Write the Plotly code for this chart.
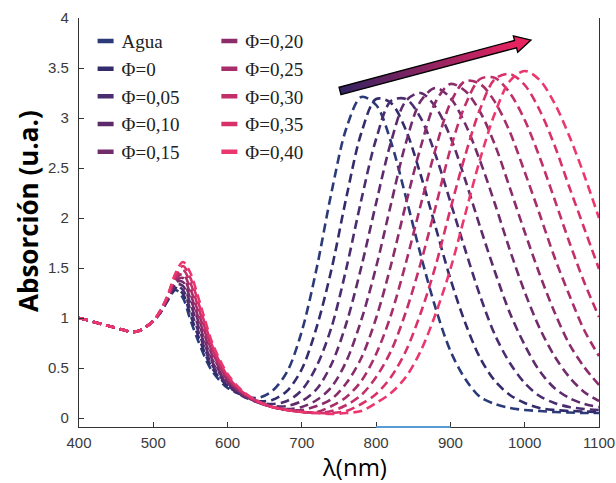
import math
import plotly.graph_objects as go

# ---------------- data ----------------
wavelength = [400, 420, 440, 460, 470, 480, 490, 500, 510, 520, 530, 540, 550, 560, 570, 580,
              600, 620, 640, 660, 680, 700, 720, 740, 760, 780, 800, 820, 840, 860, 880, 900,
              920, 940, 960, 980, 1000, 1020, 1040, 1060, 1080, 1100]

agua = [1.00, 0.96, 0.92, 0.88, 0.86, 0.87, 0.91, 0.97, 1.06, 1.18, 1.28, 1.20, 0.98, 0.78, 0.60, 0.46,
        0.30, 0.23, 0.20, 0.27, 0.46, 0.87, 1.50, 2.26, 2.90, 3.21, 3.13, 2.76, 2.21, 1.63, 1.10, 0.67,
        0.39, 0.21, 0.14, 0.10, 0.08, 0.07, 0.06, 0.055, 0.05, 0.05]
phi_000 = [1.00, 0.96, 0.92, 0.88, 0.86, 0.87, 0.91, 0.97, 1.06, 1.19, 1.30, 1.24, 1.03, 0.83, 0.64, 0.49,
           0.32, 0.23, 0.17, 0.18, 0.27, 0.49, 0.91, 1.49, 2.21, 2.85, 3.19, 3.15, 2.88, 2.43, 1.91, 1.39,
           0.95, 0.60, 0.37, 0.23, 0.15, 0.10, 0.08, 0.07, 0.065, 0.06]
phi_005 = [1.00, 0.96, 0.92, 0.88, 0.86, 0.87, 0.91, 0.97, 1.06, 1.19, 1.32, 1.28, 1.08, 0.88, 0.68, 0.52,
           0.33, 0.22, 0.16, 0.14, 0.17, 0.28, 0.52, 0.91, 1.50, 2.18, 2.79, 3.17, 3.19, 3.00, 2.63, 2.16,
           1.68, 1.22, 0.83, 0.55, 0.35, 0.22, 0.15, 0.11, 0.09, 0.08]
phi_010 = [1.00, 0.96, 0.92, 0.88, 0.86, 0.87, 0.91, 0.97, 1.06, 1.20, 1.34, 1.32, 1.14, 0.93, 0.72, 0.55,
           0.35, 0.23, 0.16, 0.12, 0.12, 0.17, 0.29, 0.54, 0.95, 1.51, 2.15, 2.76, 3.17, 3.25, 3.11, 2.81,
           2.38, 1.91, 1.46, 1.05, 0.73, 0.47, 0.30, 0.20, 0.14, 0.11]
phi_015 = [1.00, 0.96, 0.92, 0.88, 0.86, 0.87, 0.91, 0.97, 1.06, 1.21, 1.36, 1.36, 1.19, 0.98, 0.76, 0.58,
           0.36, 0.24, 0.16, 0.11, 0.09, 0.11, 0.18, 0.31, 0.57, 0.98, 1.51, 2.14, 2.75, 3.17, 3.30, 3.20,
           2.94, 2.57, 2.14, 1.68, 1.26, 0.90, 0.62, 0.41, 0.26, 0.17]
phi_020 = [1.00, 0.96, 0.92, 0.88, 0.86, 0.87, 0.91, 0.97, 1.07, 1.21, 1.37, 1.40, 1.24, 1.02, 0.81, 0.62,
           0.38, 0.24, 0.16, 0.11, 0.08, 0.08, 0.12, 0.19, 0.35, 0.60, 1.00, 1.53, 2.14, 2.71, 3.16, 3.34,
           3.27, 3.06, 2.73, 2.30, 1.86, 1.44, 1.06, 0.74, 0.51, 0.33]
phi_025 = [1.00, 0.96, 0.92, 0.88, 0.86, 0.87, 0.91, 0.97, 1.07, 1.22, 1.39, 1.44, 1.29, 1.07, 0.85, 0.65,
           0.39, 0.25, 0.16, 0.11, 0.08, 0.06, 0.06, 0.12, 0.21, 0.37, 0.64, 1.03, 1.55, 2.13, 2.69, 3.15,
           3.37, 3.34, 3.16, 2.86, 2.46, 2.04, 1.61, 1.23, 0.88, 0.62]
phi_030 = [1.00, 0.96, 0.92, 0.88, 0.86, 0.87, 0.91, 0.97, 1.07, 1.23, 1.41, 1.48, 1.35, 1.12, 0.89, 0.68,
           0.41, 0.26, 0.17, 0.11, 0.08, 0.06, 0.05, 0.07, 0.13, 0.23, 0.41, 0.67, 1.06, 1.55, 2.11, 2.69,
           3.13, 3.39, 3.40, 3.25, 2.98, 2.61, 2.19, 1.76, 1.36, 1.01]
phi_035 = [1.00, 0.96, 0.92, 0.88, 0.86, 0.87, 0.91, 0.97, 1.08, 1.23, 1.43, 1.52, 1.40, 1.17, 0.93, 0.71,
           0.42, 0.26, 0.17, 0.11, 0.08, 0.06, 0.05, 0.05, 0.07, 0.14, 0.24, 0.41, 0.67, 1.05, 1.52, 2.09,
           2.63, 3.09, 3.39, 3.44, 3.33, 3.08, 2.73, 2.31, 1.90, 1.49]
phi_040 = [1.00, 0.96, 0.92, 0.88, 0.86, 0.87, 0.91, 0.97, 1.08, 1.24, 1.45, 1.56, 1.45, 1.22, 0.97, 0.74,
           0.44, 0.27, 0.17, 0.11, 0.08, 0.06, 0.05, 0.04, 0.05, 0.07, 0.15, 0.25, 0.41, 0.67, 1.04, 1.49,
           2.04, 2.59, 3.05, 3.37, 3.47, 3.38, 3.15, 2.82, 2.43, 2.00]

series_values = [agua, phi_000, phi_005, phi_010, phi_015, phi_020, phi_025, phi_030, phi_035, phi_040]
series_names = ["Agua", "Φ=0", "Φ=0,05", "Φ=0,10", "Φ=0,15",
                "Φ=0,20", "Φ=0,25", "Φ=0,30", "Φ=0,35", "Φ=0,40"]
series_colors = ["#2b3a78", "#332c6c", "#4a2d70", "#5d2b6c", "#722c6c",
                 "#8c2c6a", "#a82d6a", "#c22f6a", "#d9306a", "#ec376e"]

x_ticks = [400, 500, 600, 700, 800, 900, 1000, 1100]
y_ticks = [0, 0.5, 1, 1.5, 2, 2.5, 3, 3.5, 4]
y_tick_text = ["0", "0.5", "1", "1.5", "2", "2.5", "3", "3.5", "4"]

# ---------------- figure ----------------
W, H = 616, 483
ML, MR, MT, MB = 79, 17, 18, 56
PW, PH = W - ML - MR, H - MT - MB

fig = go.Figure()

for name, vals, col in zip(series_names, series_values, series_colors):
    fig.add_trace(go.Scatter(
        x=wavelength, y=vals, mode="lines", name=name, showlegend=False,
        line=dict(color=col, width=2.6, dash="9px,5px", shape="spline", smoothing=0.9),
        hoverinfo="skip"))

# legend-only entries (two columns)
for i, (name, col) in enumerate(zip(series_names, series_colors)):
    fig.add_trace(go.Scatter(
        x=[None], y=[None], mode="lines", name=name, showlegend=True,
        legend="legend" if i < 5 else "legend2",
        line=dict(color=col, width=4.5, dash="0px,11px,16px,100px")))


def to_paper(px, py):
    return (px - ML) / PW, (MT + PH - py) / PH


# gradient arrow (decoration)
tail = (340.0, 91.0)
tip = (531.0, 40.0)
dx, dy = tip[0] - tail[0], tip[1] - tail[1]
L = math.hypot(dx, dy)
ux, uy = dx / L, dy / L
nx, ny = -uy, ux
hw, hh, hl = 3.8, 8.5, 16.0
Ls = L - hl
c0 = (50, 36, 98)
c1 = (232, 36, 96)
N = 30
shapes = []
for k in range(N):
    s0 = Ls * k / N
    s1 = Ls * (k + 1) / N + 0.8
    t = (k + 0.5) / N
    col = "rgb(%d,%d,%d)" % tuple(int(c0[j] + (c1[j] - c0[j]) * t) for j in range(3))
    pts = [(tail[0] + ux * s0 + nx * hw, tail[1] + uy * s0 + ny * hw),
           (tail[0] + ux * s1 + nx * hw, tail[1] + uy * s1 + ny * hw),
           (tail[0] + ux * s1 - nx * hw, tail[1] + uy * s1 - ny * hw),
           (tail[0] + ux * s0 - nx * hw, tail[1] + uy * s0 - ny * hw)]
    pp = [to_paper(*p) for p in pts]
    path = "M" + " L".join("%.5f,%.5f" % p for p in pp) + " Z"
    shapes.append(dict(type="path", path=path, xref="paper", yref="paper",
                       fillcolor=col, line=dict(width=0), layer="above"))
se = (tail[0] + ux * Ls, tail[1] + uy * Ls)
head = [(se[0] + nx * hh, se[1] + ny * hh), tip, (se[0] - nx * hh, se[1] - ny * hh)]
pp = [to_paper(*p) for p in head]
shapes.append(dict(type="path", path="M" + " L".join("%.5f,%.5f" % p for p in pp) + " Z",
                   xref="paper", yref="paper", fillcolor="rgb(232,36,96)",
                   line=dict(width=0), layer="above"))
outline = [(tail[0] + nx * hw, tail[1] + ny * hw), (se[0] + nx * hw, se[1] + ny * hw),
           (se[0] + nx * hh, se[1] + ny * hh), tip, (se[0] - nx * hh, se[1] - ny * hh),
           (se[0] - nx * hw, se[1] - ny * hw), (tail[0] - nx * hw, tail[1] - ny * hw)]
pp = [to_paper(*p) for p in outline]
shapes.append(dict(type="path", path="M" + " L".join("%.5f,%.5f" % p for p in pp) + " Z",
                   xref="paper", yref="paper", fillcolor="rgba(0,0,0,0)",
                   line=dict(width=1.3, color="black"), layer="above"))

# light-blue segment on the x axis
shapes.append(dict(type="line", xref="x", yref="paper", x0=800, x1=900, y0=0, y1=0,
                   line=dict(color="#5b9bd5", width=2), layer="above"))

tick_font = dict(family="Liberation Sans Narrow, Arial, sans-serif",
                 size=15, color="#3a3a3a")
legend_font = dict(family="Liberation Serif, Times New Roman, serif", size=19, color="#222222")

fig.update_layout(
    width=W, height=H, autosize=False,
    margin=dict(l=ML, r=MR, t=MT, b=MB, autoexpand=False),
    paper_bgcolor="white", plot_bgcolor="white",
    showlegend=True,
    legend=dict(x=0.005, y=0.99, xanchor="left", yanchor="top", bgcolor="rgba(0,0,0,0)",
                font=legend_font, itemwidth=30, tracegroupgap=0),
    legend2=dict(x=0.243, y=0.99, xanchor="left", yanchor="top", bgcolor="rgba(0,0,0,0)",
                 font=legend_font, itemwidth=30, tracegroupgap=0),
    xaxis=dict(range=[400, 1100], tickvals=x_ticks, showgrid=False, zeroline=False,
               showline=True, linecolor="#333333", linewidth=1.2, ticks="inside",
               ticklen=5, tickcolor="#333333", tickfont=tick_font, ticklabelstandoff=2,
               ticklabeloverflow="allow", automargin=False),
    yaxis=dict(range=[-0.09, 4.0], tickvals=y_ticks, ticktext=y_tick_text, showgrid=False,
               zeroline=False, showline=True, linecolor="#333333", linewidth=1.2,
               ticks="inside", ticklen=5, tickcolor="#333333", tickfont=tick_font,
               mirror=True, ticklabelstandoff=6, ticklabeloverflow="allow", automargin=False),
    shapes=shapes,
    annotations=[
        dict(text="<b>Absorción (u.a.)</b>", textangle=-90, xref="paper", yref="paper",
             x=(28 - ML) / PW, y=(MT + PH - 211) / PH, xanchor="center", yanchor="middle",
             showarrow=False,
             font=dict(family="Open Sans, Arial, sans-serif", size=26, color="black")),
        dict(text="λ(nm)", xref="paper", yref="paper",
             x=(354 - ML) / PW, y=(MT + PH - 466.5) / PH, xanchor="center", yanchor="middle",
             showarrow=False, borderpad=0,
             font=dict(family="Open Sans, Arial, sans-serif", size=24, color="black")),
    ],
)

fig.write_html("out.html")
